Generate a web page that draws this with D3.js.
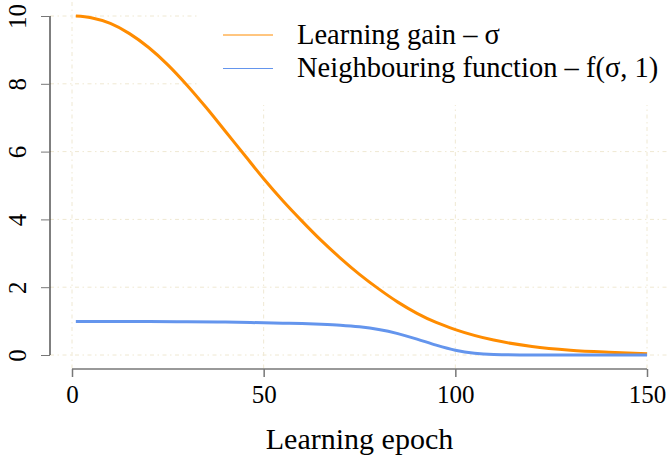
<!DOCTYPE html>
<html>
<head>
<meta charset="utf-8">
<script src="https://cdn.jsdelivr.net/npm/d3@7/dist/d3.min.js"></script>
<style>
  html, body { margin: 0; padding: 0; background: #fff; }
  svg { display: block; }
  text { font-family: "Liberation Serif", "Times New Roman", serif; fill: #000; }
</style>
</head>
<body>
<svg id="chart" width="672" height="457"></svg>
<script>
// Learning gain (sigma) and neighbouring function over the training epochs
const epochs     = [1, 5, 10, 15, 20, 25, 30, 35, 40, 45, 50, 55, 60, 65, 70, 75, 80, 85, 90, 95, 100, 110, 120, 130, 140, 150];
const sigma      = [10, 9.95, 9.78, 9.48, 9.07, 8.56, 7.96, 7.3, 6.6, 5.9, 5.2, 4.55, 3.95, 3.38, 2.86, 2.38, 1.95, 1.56, 1.23, 0.96, 0.75, 0.44, 0.25, 0.14, 0.08, 0.04];

const nbEpochs   = [1, 10, 20, 30, 40, 50, 55, 60, 65, 70, 75, 80, 85, 90, 95, 100, 105, 110, 120, 130, 140, 150];
const neighbour  = [0.99, 0.99, 0.99, 0.98, 0.97, 0.95, 0.94, 0.93, 0.91, 0.88, 0.83, 0.75, 0.63, 0.47, 0.29, 0.14, 0.05, 0.015, 0.0, 0.0, 0.0, 0.0];

const xTicks = [0, 50, 100, 150];
const yTicks = [0, 2, 4, 6, 8, 10];
const seriesNames = ["Learning gain \u2013 \u03c3", "Neighbouring function \u2013 f(\u03c3, 1)"];
const seriesColors = ["#ff8c00", "#6495ed"];

const svg = d3.select("#chart");

const x = d3.scaleLinear().domain([0, 150]).range([72, 647]);
const y = d3.scaleLinear().domain([0, 10]).range([355, 16]);

// plot region bounds
const regionLeft = 50, regionRight = 670, regionTop = 2, regionBottom = 368.5;

const gridColor = "#efe8d2";
const gridDash = "4,3.5,1.5,3.5";
const serif = "Liberation Serif";

// grid
svg.append("g").selectAll("line").data(yTicks).join("line")
  .attr("x1", regionLeft).attr("x2", regionRight)
  .attr("y1", d => y(d)).attr("y2", d => y(d))
  .attr("stroke", gridColor).attr("stroke-width", 1).attr("stroke-dasharray", gridDash);
svg.append("g").selectAll("line").data(xTicks).join("line")
  .attr("x1", d => x(d)).attr("x2", d => x(d))
  .attr("y1", regionTop).attr("y2", regionBottom)
  .attr("stroke", gridColor).attr("stroke-width", 1).attr("stroke-dasharray", gridDash);

// legend background
svg.append("rect").attr("x", 197).attr("y", 0).attr("width", 475).attr("height", 105).attr("fill", "#fff");

// y axis
const yAxis = svg.append("g").attr("transform", `translate(${regionLeft},0)`)
  .call(d3.axisLeft(y).tickValues(yTicks).tickSize(9).tickSizeOuter(0).tickFormat(d3.format("d")))
  .attr("font-family", serif).attr("font-size", 25);
yAxis.select(".domain").attr("stroke", "#000").attr("d", `M0,${y(10)}V${y(0)}`);
yAxis.selectAll(".tick line").attr("stroke", "#777");
yAxis.selectAll(".tick text")
  .attr("text-anchor", "middle")
  .attr("x", null).attr("dy", null)
  .attr("transform", "translate(-24,0) rotate(-90)")
  .attr("y", 0);

// x axis
const xAxis = svg.append("g").attr("transform", `translate(0,${369})`)
  .call(d3.axisBottom(x).tickValues(xTicks).tickSize(8).tickSizeOuter(0).tickFormat(d3.format("d")))
  .attr("font-family", serif).attr("font-size", 25);
xAxis.select(".domain").attr("stroke", "#777").attr("stroke-width", 1.5).attr("d", `M${x(0)},0H${x(150)}`);
xAxis.selectAll(".tick line").attr("stroke", "#777").attr("stroke-width", 1.5);
xAxis.selectAll(".tick text").attr("y", 34).attr("dy", null);

// axis title
svg.append("text").attr("x", x(75)).attr("y", 449).attr("text-anchor", "middle")
  .attr("font-family", serif).attr("font-size", 30).text("Learning epoch");

// curves
const line = d3.line().x(d => x(d[0])).y(d => y(d[1])).curve(d3.curveMonotoneX);
svg.append("path").datum(epochs.map((e, i) => [e, sigma[i]]))
  .attr("d", line).attr("fill", "none").attr("stroke", seriesColors[0]).attr("stroke-width", 3);
svg.append("path").datum(nbEpochs.map((e, i) => [e, neighbour[i]]))
  .attr("d", line).attr("fill", "none").attr("stroke", seriesColors[1]).attr("stroke-width", 3);

// legend
const legend = svg.append("g");
seriesNames.forEach((name, i) => {
  const cy = 35 + i * 33.5;
  legend.append("line").attr("x1", 223).attr("x2", 273).attr("y1", cy).attr("y2", cy)
    .attr("stroke", seriesColors[i]).attr("stroke-width", 1);
  legend.append("text").attr("x", 297).attr("y", cy + 8.5)
    .attr("font-family", serif).attr("font-size", 28.5).text(name);
});
</script>
</body>
</html>
